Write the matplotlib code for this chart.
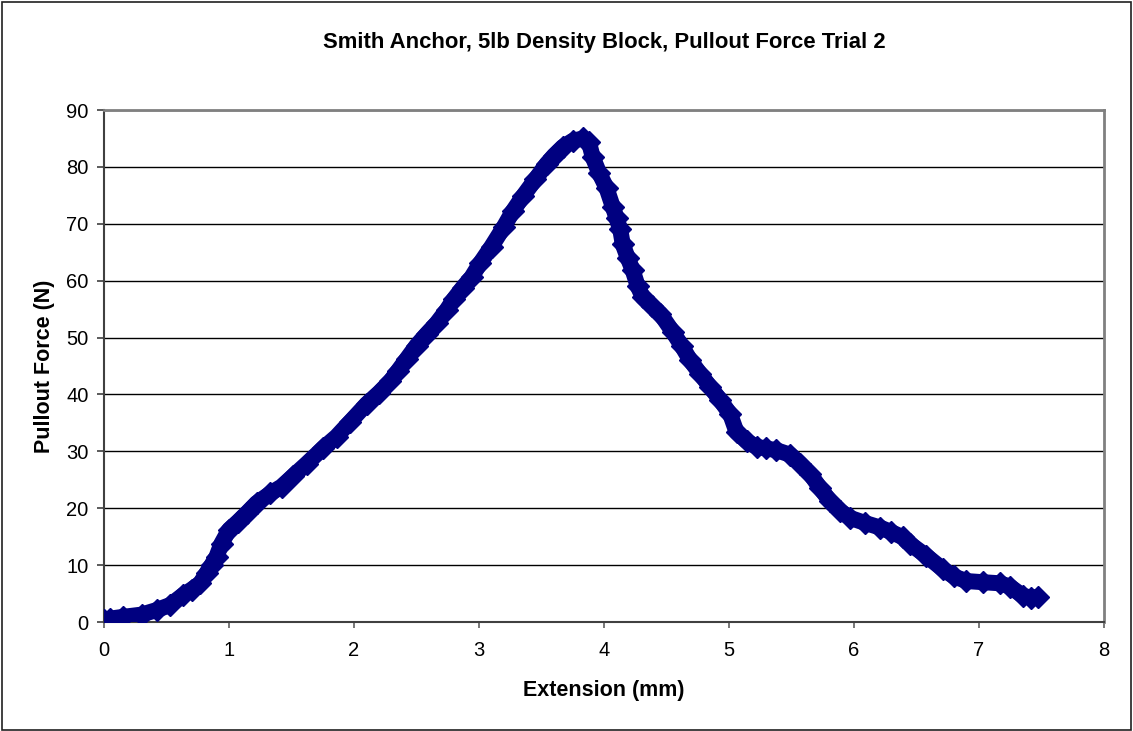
import matplotlib
matplotlib.use("Agg")
import matplotlib.pyplot as plt
from matplotlib.patches import Rectangle

plt.rcParams['font.family'] = ['Liberation Sans', 'DejaVu Sans']

# extension (mm) and pullout force (N)
extension = [0.0, 0.05, 0.15, 0.3, 0.42, 0.53, 0.63, 0.7, 0.77, 0.82, 0.86,
             0.9, 0.94, 1.0, 1.07, 1.14, 1.22, 1.33, 1.42, 1.51, 1.62, 1.75,
             1.86, 1.97, 2.1, 2.2, 2.29, 2.35, 2.42, 2.5, 2.58, 2.66, 2.74,
             2.8, 2.87, 2.94, 3.01, 3.1, 3.2, 3.27, 3.35, 3.45, 3.54, 3.6,
             3.67, 3.75, 3.83, 3.88, 3.91, 3.96, 4.02, 4.07, 4.1, 4.13, 4.15,
             4.19, 4.23, 4.27, 4.31, 4.38, 4.45, 4.55, 4.62, 4.69, 4.77, 4.85,
             4.93, 5.01, 5.06, 5.14, 5.22, 5.3, 5.38, 5.49, 5.57, 5.65, 5.73,
             5.81, 5.89, 5.97, 6.09, 6.21, 6.3, 6.39, 6.45, 6.58, 6.71, 6.8,
             6.9, 7.03, 7.17, 7.25, 7.35, 7.42, 7.47]
force = [0.4, 0.6, 0.9, 1.3, 2.1, 3.0, 4.7, 5.7, 6.8, 8.6, 10.0,
         11.5, 13.8, 16.2, 17.6, 19.1, 20.9, 22.6, 23.8, 25.6, 27.8, 30.5,
         32.6, 35.2, 38.3, 40.3, 42.3, 44.1, 46.2, 48.6, 50.6, 52.5, 54.8,
         56.8, 58.8, 60.6, 63.1, 66.0, 69.5, 72.2, 74.8, 77.8, 80.5, 82.0,
         83.5, 84.6, 85.0, 84.3, 81.7, 79.0, 76.3, 73.0, 71.0, 69.0, 66.4,
         64.0, 61.8, 59.0, 57.1, 55.6, 54.2, 51.0, 48.6, 46.0, 43.6, 41.3,
         39.0, 36.5, 33.4, 31.8, 30.8, 30.5, 30.2, 29.4, 27.8, 26.0, 23.5,
         21.2, 19.5, 18.3, 17.4, 16.6, 15.8, 14.9, 13.7, 11.6, 9.3, 8.0,
         7.2, 7.0, 6.8, 6.2, 4.6, 4.3, 4.4]

x_ticks = [0, 1, 2, 3, 4, 5, 6, 7, 8]
y_ticks = [0, 10, 20, 30, 40, 50, 60, 70, 80, 90]

fig = plt.figure(figsize=(11.33, 7.31), dpi=100)
ax = fig.add_axes([0.0918, 0.1491, 0.8826, 0.7004])

ax.plot(extension, force, color='#000080', linewidth=11.5, solid_joinstyle='round',
        solid_capstyle='round', marker='D', markersize=11, zorder=3)

ax.set_xlim(0, 8)
ax.set_ylim(0, 90)
ax.set_xticks(x_ticks)
ax.set_yticks(y_ticks)
ax.yaxis.grid(True, color='black', linewidth=1)
ax.set_axisbelow(True)

for side in ['left', 'bottom']:
    ax.spines[side].set_color('#404040')
    ax.spines[side].set_linewidth(1.5)
for side in ['top', 'right']:
    ax.spines[side].set_color('#808080')
    ax.spines[side].set_linewidth(2)

ax.tick_params(axis='y', direction='out', length=5, width=1.2,
               color='#404040', labelsize=14.5, pad=6)
ax.tick_params(axis='x', direction='out', length=4, width=1.2,
               color='#606060', labelsize=14.5, pad=10)

ax.set_title("Smith Anchor, 5lb Density Block, Pullout Force Trial 2",
             fontsize=15.9, fontweight='bold', pad=45)
ax.set_xlabel("Extension (mm)", fontsize=15.5, fontweight='bold', labelpad=14)
ax.set_ylabel("Pullout Force (N)", fontsize=15.5, fontweight='bold', labelpad=8)

fig.patches.append(Rectangle((0.002, 0.002), 0.996, 0.995, transform=fig.transFigure,
                             fill=False, edgecolor='#202020', linewidth=1.2))

fig.savefig("out.png", dpi=100)
